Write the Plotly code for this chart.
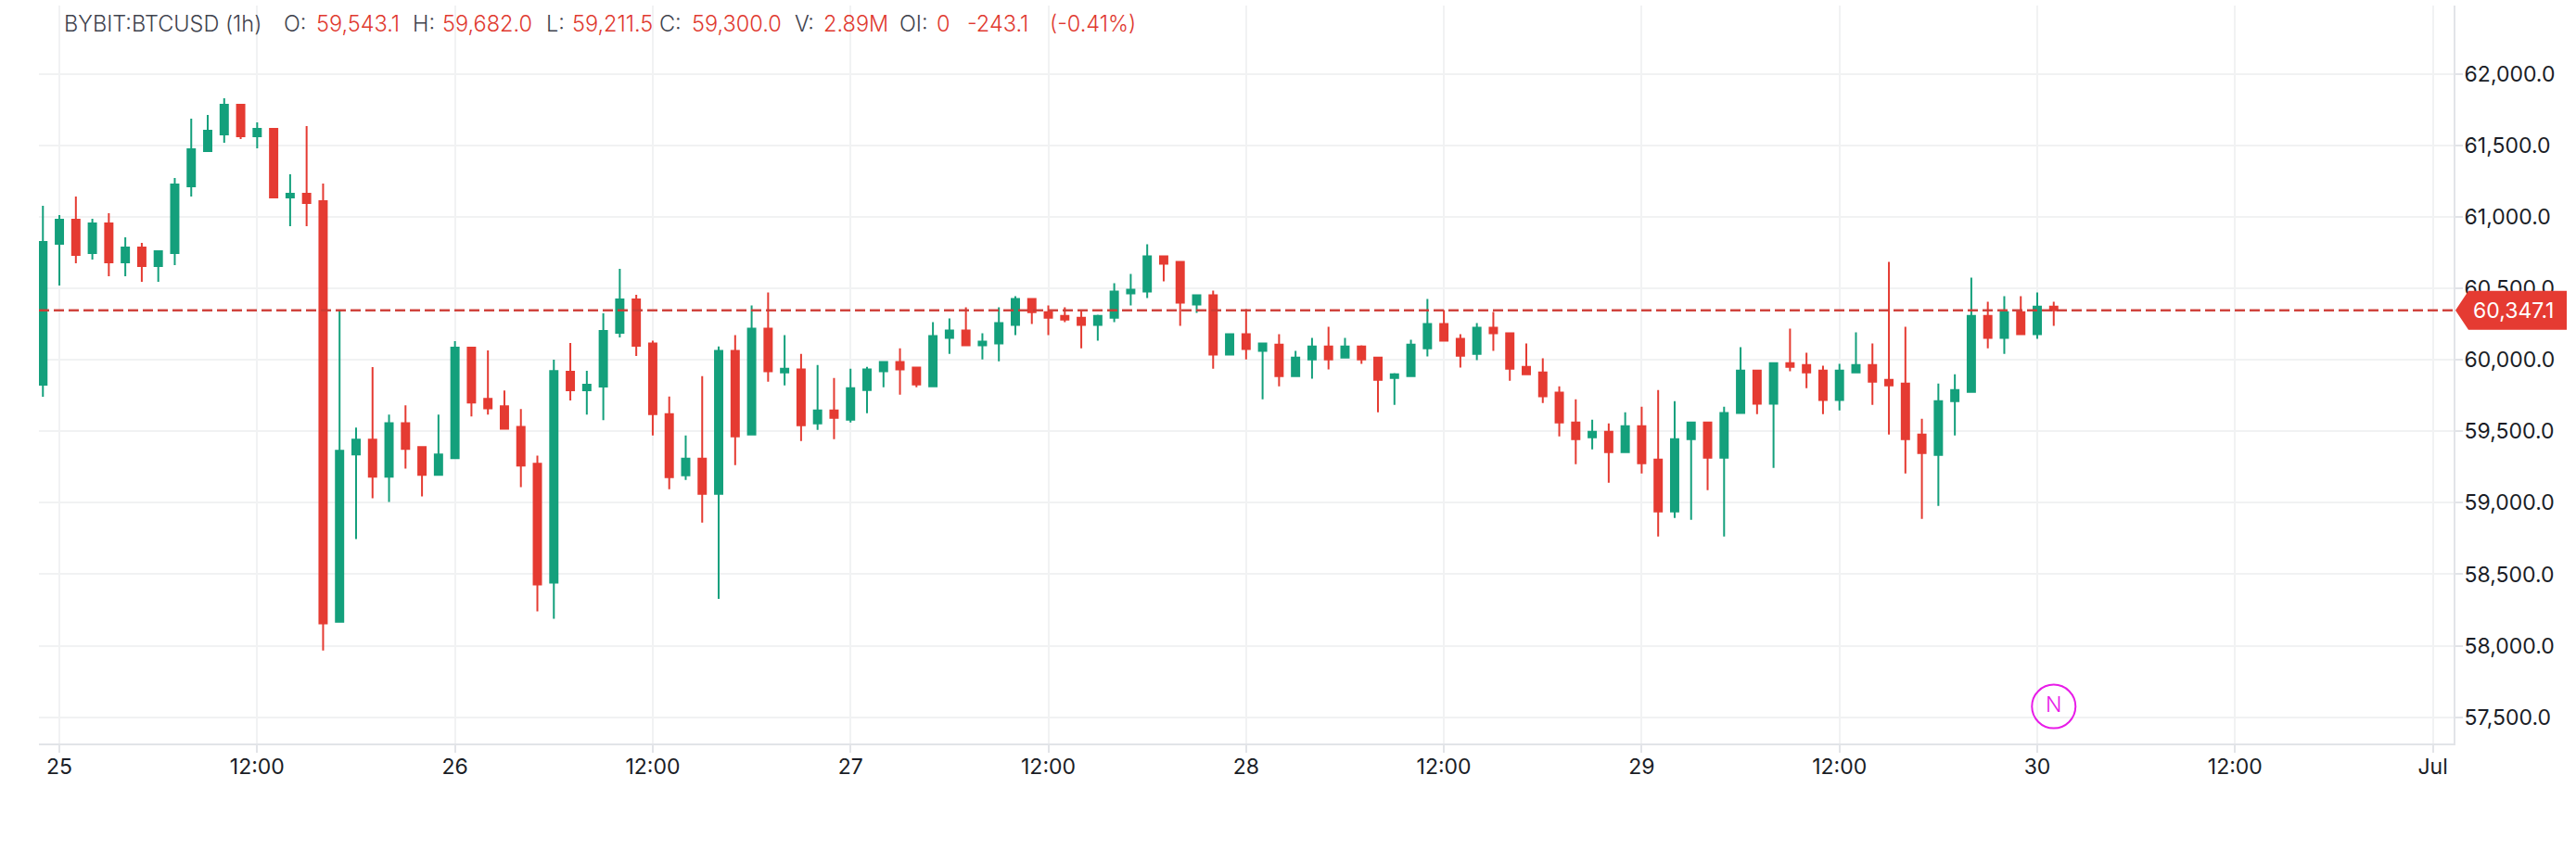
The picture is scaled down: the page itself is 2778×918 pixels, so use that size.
import pandas as pd
import plotly.graph_objects as go

# Hourly BTCUSD candles, 24 Jun 23:00 through 30 Jun 01:00
opens = [
    59826, 60813, 60981, 60748, 60955, 60683, 60787, 60657, 60748, 61215,
    61461, 61578, 61786, 61565, 61617, 61137, 61163, 61111, 58168, 59338,
    59442, 59182, 59558, 59390, 59195, 59312, 60086, 59727, 59675, 59532,
    59273, 58441, 59917, 59787, 59813, 60190, 60423, 60115, 59621, 59192,
    59309, 59062, 60063, 59478, 60219, 59913, 59933, 59556, 59647, 59582,
    59790, 59920, 59985, 59946, 59816, 60154, 60206, 60102, 60115, 60245,
    60426, 60335, 60309, 60296, 60245, 60296, 60465, 60478, 60725, 60686,
    60387, 60452, 60037, 60180, 60063, 60108, 59887, 60004, 60095, 60017,
    60095, 60017, 59874, 59887, 60082, 60251, 60147, 60043, 60225, 60186,
    59952, 59913, 59771, 59563, 59459, 59498, 59355, 59537, 59303, 58939,
    59446, 59563, 59316, 59628, 59926, 59693, 59978, 59965, 59926, 59719,
    59913, 59965, 59861, 59835, 59478, 59335, 59712, 59777, 60309, 60154,
    60335, 60180, 60374,
]
highs = [
    61079, 61014, 61143, 60988, 61027, 60858, 60819, 60767, 61273, 61689,
    61714, 61831, 61792, 61663, 61624, 61299, 61637, 61234, 60352, 59526,
    59950, 59617, 59682, 59396, 59617, 60131, 60086, 60066, 59786, 59656,
    59331, 60002, 60118, 59924, 60326, 60637, 60456, 60134, 59744, 59472,
    59887, 60095, 60173, 60381, 60472, 60173, 60043, 59965, 59874, 59939,
    59952, 59991, 60082, 59952, 60264, 60290, 60368, 60186, 60368, 60446,
    60433, 60381, 60368, 60342, 60316, 60537, 60602, 60810, 60732, 60693,
    60452, 60485, 60180, 60355, 60121, 60180, 60063, 60154, 60232, 60154,
    60102, 60017, 59907, 60141, 60427, 60349, 60180, 60258, 60336, 60186,
    60115, 60011, 59816, 59725, 59582, 59556, 59634, 59673, 59790, 59712,
    59569, 59569, 59673, 60089, 59926, 59978, 60219, 60050, 59959, 59972,
    60193, 60115, 60686, 60232, 59589, 59835, 59900, 60576, 60407, 60446,
    60446, 60472, 60407,
]
lows = [
    59742, 60521, 60676, 60702, 60585, 60585, 60546, 60546, 60663, 61143,
    61455, 61520, 61546, 61481, 61137, 60936, 60936, 57967, 58162, 58747,
    59032, 59006, 59240, 59045, 59195, 59312, 59604, 59617, 59513, 59110,
    58240, 58188, 59716, 59617, 59578, 60157, 60027, 59472, 59095, 59160,
    58861, 58328, 59264, 59472, 59848, 59822, 59433, 59511, 59446, 59563,
    59627, 59809, 59757, 59809, 59809, 60043, 60102, 60004, 59991, 60173,
    60251, 60173, 60264, 60082, 60134, 60264, 60381, 60433, 60550, 60238,
    60329, 59939, 60037, 60004, 59725, 59816, 59887, 59868, 59933, 60017,
    59972, 59634, 59686, 59881, 60024, 60128, 59946, 59998, 60063, 59855,
    59894, 59699, 59465, 59270, 59374, 59141, 59348, 59205, 58764, 58894,
    58881, 59089, 58764, 59628, 59621, 59244, 59920, 59803, 59621, 59647,
    59913, 59686, 59478, 59205, 58887, 58978, 59472, 59770, 60082, 60043,
    60180, 60147, 60238,
]
closes = [
    60825, 60981, 60735, 60955, 60683, 60787, 60657, 60761, 61228, 61474,
    61604, 61786, 61565, 61617, 61137, 61163, 61098, 58156, 59364, 59442,
    59182, 59558, 59377, 59195, 59338, 60086, 59701, 59662, 59519, 59260,
    58428, 59922, 59787, 59826, 60203, 60423, 60099, 59621, 59179, 59309,
    59062, 60063, 59465, 60219, 59920, 59939, 59543, 59647, 59595, 59803,
    59933, 59985, 59933, 59829, 60167, 60206, 60102, 60128, 60258, 60426,
    60335, 60296, 60283, 60245, 60309, 60478, 60491, 60725, 60673, 60400,
    60452, 60037, 60180, 60076, 60115, 59887, 60017, 60095, 60004, 60095,
    60004, 59861, 59900, 60108, 60251, 60134, 60030, 60225, 60186, 59939,
    59900, 59745, 59563, 59446, 59498, 59355, 59537, 59277, 58939, 59446,
    59563, 59316, 59628, 59926, 59693, 59978, 59952, 59913, 59719, 59926,
    59965, 59848, 59822, 59446, 59348, 59712, 59790, 60309, 60154, 60335,
    60180, 60374, 60347.1,
]
times = pd.date_range("2024-06-24 23:00", periods=len(opens), freq="h")

day_ticks = ["2024-06-25 00:00", "2024-06-25 12:00", "2024-06-26 00:00", "2024-06-26 12:00",
             "2024-06-27 00:00", "2024-06-27 12:00", "2024-06-28 00:00", "2024-06-28 12:00",
             "2024-06-29 00:00", "2024-06-29 12:00", "2024-06-30 00:00", "2024-06-30 12:00",
             "2024-07-01 00:00"]
day_labels = ["25", "12:00", "26", "12:00", "27", "12:00", "28", "12:00", "29", "12:00",
              "30", "12:00", "Jul"]
price_ticks = [57500, 58000, 58500, 59000, 59500, 60000, 60500, 61000, 61500, 62000]
last_price = closes[-1]

event_time = "2024-06-30 01:00"
event_price = 57575

header_parts = [
    ("BYBIT:BTCUSD (1h)", "#3f434e", 67),
    ("O:", "#3f434e", 304),
    ("59,543.1", "#e0392f", 339),
    ("H:", "#3f434e", 443),
    ("59,682.0", "#e0392f", 475),
    ("L:", "#3f434e", 587),
    ("59,211.5", "#e0392f", 615),
    ("C:", "#3f434e", 709),
    ("59,300.0", "#e0392f", 744),
    ("V:", "#3f434e", 855),
    ("2.89M", "#e0392f", 886),
    ("OI:", "#3f434e", 968),
    ("0", "#e0392f", 1008),
    ("-243.1", "#e0392f", 1041),
    ("(-0.41%)", "#e0392f", 1130),
]

WIDTH, HEIGHT = 2778, 918
LEFT, RIGHT, TOP, BOTTOM = 42, 132, 6, 116
UP, DOWN = "#14a07c", "#e53b32"
FONT = "Inter, Lato, sans-serif"
GRID = "#f1f2f3"
EDGE = "#e2e4e8"

fig = go.Figure()
fig.add_trace(go.Candlestick(
    x=times, open=opens, high=highs, low=lows, close=closes,
    increasing=dict(line=dict(color=UP, width=2), fillcolor=UP),
    decreasing=dict(line=dict(color=DOWN, width=2), fillcolor=DOWN),
    whiskerwidth=0, showlegend=False, hoverinfo="skip",
))
# News marker near the bottom of the pane
fig.add_trace(go.Scatter(
    x=[event_time], y=[event_price], mode="markers+text", text=["N"],
    textposition="middle center",
    textfont=dict(family=FONT, size=23, color="#e81ce8", weight=300),
    marker=dict(size=47, color="rgba(0,0,0,0)", line=dict(color="#e81ce8", width=2)),
    showlegend=False, hoverinfo="skip",
))

fig.update_layout(
    width=WIDTH, height=HEIGHT,
    margin=dict(l=LEFT, r=RIGHT, t=TOP, b=BOTTOM),
    paper_bgcolor="white", plot_bgcolor="white",
    boxgap=0.36,
    font=dict(family=FONT, size=23, color="#1a1d26"),
    xaxis=dict(
        type="date", rangeslider=dict(visible=False),
        range=["2024-06-24 22:45:36", "2024-07-01 01:15:36"],
        tickmode="array", tickvals=day_ticks, ticktext=day_labels,
        showgrid=True, gridcolor=GRID, gridwidth=2,
        ticks="outside", ticklen=8, tickcolor=EDGE, tickwidth=2,
        showline=True, linecolor=EDGE, linewidth=2, zeroline=False,
        ticklabelstandoff=-5,
    ),
    yaxis=dict(
        side="right", range=[57316, 62480],
        tickmode="array", tickvals=price_ticks, tickformat=",.1f",
        showgrid=True, gridcolor=GRID, gridwidth=2,
        ticks="outside", ticklen=8, tickcolor=EDGE, tickwidth=2,
        showline=True, linecolor=EDGE, linewidth=2, zeroline=False,
        ticklabelstandoff=-3,
    ),
)

# Last-price guide line and its flag on the price scale
fig.add_shape(type="line", xref="paper", yref="y", x0=0, x1=1, y0=last_price, y1=last_price,
              line=dict(color="rgba(205,58,52,0.95)", width=2.5, dash="11px,5px"), layer="above")
fig.add_shape(type="path", xref="paper", yref="y", xsizemode="pixel", ysizemode="pixel",
              xanchor=1, yanchor=last_price, path="M2,0 L16,-21 L122,-21 L122,21 L16,21 Z",
              fillcolor=DOWN, line=dict(width=0), layer="above")
fig.add_annotation(xref="paper", yref="y", x=1, y=last_price, xanchor="left", yanchor="middle",
                   xshift=19, showarrow=False, text=f"{last_price:,.1f}",
                   font=dict(family=FONT, size=23, color="white"))

# Instrument and OHLC readout along the top edge
plot_width = WIDTH - LEFT - RIGHT
for label, colour, px in header_parts:
    fig.add_annotation(xref="paper", yref="paper", x=(px - LEFT) / plot_width, y=1,
                       xanchor="left", yanchor="middle", yshift=-19, showarrow=False,
                       text=label, font=dict(family=FONT, size=23.5, color=colour, weight=300))

fig.write_html("out.html")
